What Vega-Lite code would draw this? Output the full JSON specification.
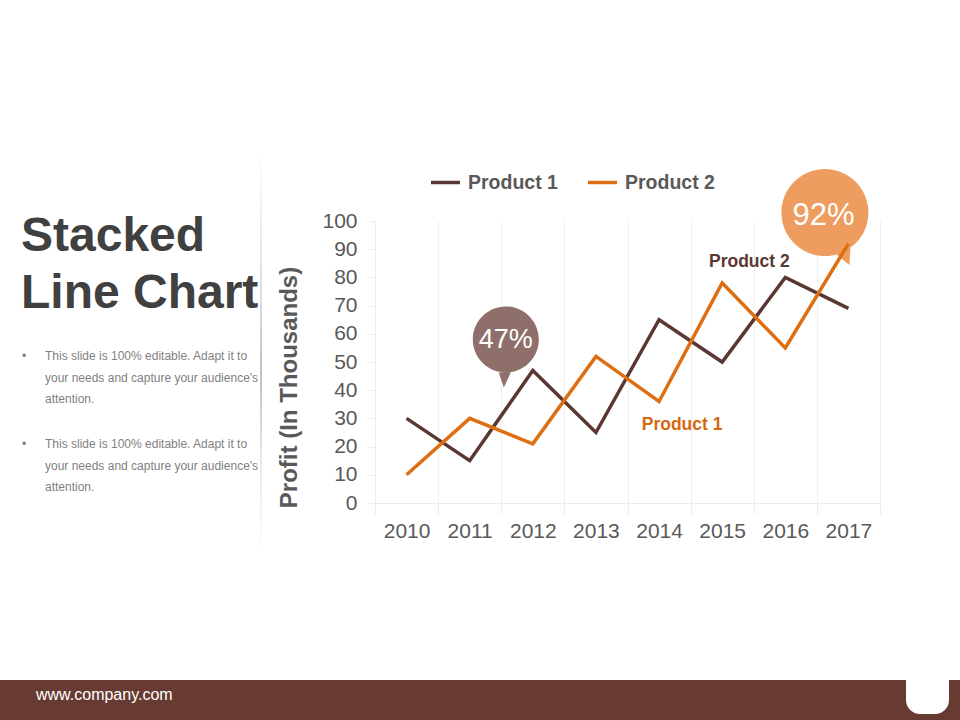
{
  "$schema": "https://vega.github.io/schema/vega-lite/v6.json",
  "background": "white",
  "padding": 0,
  "spacing": 0,
  "config": {
    "font": "Liberation Sans",
    "view": {"stroke": null},
    "axis": {"domainColor": "#ececec", "tickColor": "#ececec", "gridColor": "#efefef", "labelColor": "#595959"}
  },
  "datasets": {
    "profit": [
      {"year": "2010", "product": "Product 1", "profit": 30},
      {"year": "2011", "product": "Product 1", "profit": 15},
      {"year": "2012", "product": "Product 1", "profit": 47},
      {"year": "2013", "product": "Product 1", "profit": 25},
      {"year": "2014", "product": "Product 1", "profit": 65},
      {"year": "2015", "product": "Product 1", "profit": 50},
      {"year": "2016", "product": "Product 1", "profit": 80},
      {"year": "2017", "product": "Product 1", "profit": 69},
      {"year": "2010", "product": "Product 2", "profit": 10},
      {"year": "2011", "product": "Product 2", "profit": 30},
      {"year": "2012", "product": "Product 2", "profit": 21},
      {"year": "2013", "product": "Product 2", "profit": 52},
      {"year": "2014", "product": "Product 2", "profit": 36},
      {"year": "2015", "product": "Product 2", "profit": 78},
      {"year": "2016", "product": "Product 2", "profit": 55},
      {"year": "2017", "product": "Product 2", "profit": 92}
    ],
    "bullets": [
      {"item": "a", "part": "marker", "text": "•"},
      {"item": "a", "part": "text", "text": "This slide is 100% editable. Adapt it to\nyour needs and capture your audience's\nattention."},
      {"item": "b", "part": "marker", "text": "•"},
      {"item": "b", "part": "text", "text": "This slide is 100% editable. Adapt it to\nyour needs and capture your audience's\nattention."}
    ]
  },
  "vconcat": [
    {
      "spacing": 0,
      "bounds": "flush",
      "hconcat": [
        {
          "width": 375,
          "height": 680,
          "resolve": {"scale": {"x": "independent", "y": "independent"}},
          "layer": [
            {
              "data": {"values": [{"part": "divider", "from": 0, "to": 1}]},
              "mark": {
                "type": "rect",
                "width": 2,
                "color": {
                  "gradient": "linear", "x1": 0, "y1": 0, "x2": 0, "y2": 1,
                  "stops": [
                    {"offset": 0, "color": "#ffffff"},
                    {"offset": 0.4, "color": "#d8d8d8"},
                    {"offset": 0.55, "color": "#bfbfbf"},
                    {"offset": 0.75, "color": "#e6e6e6"},
                    {"offset": 1, "color": "#ffffff"}
                  ]
                }
              },
              "encoding": {
                "x": {"field": "part", "type": "nominal", "axis": null, "scale": {"type": "point", "domain": ["divider"], "range": [261, 261]}},
                "y": {"field": "from", "type": "quantitative", "axis": null, "scale": {"domain": [0, 1], "range": [150, 555]}},
                "y2": {"field": "to"}
              }
            },
            {
              "data": {"values": [{"part": "heading", "text": "Stacked\nLine Chart"}]},
              "mark": {"type": "text", "align": "left", "baseline": "middle", "lineBreak": "\n", "lineHeight": 57, "fontSize": 48, "fontWeight": "bold", "color": "#404040"},
              "encoding": {
                "x": {"field": "part", "type": "nominal", "axis": null, "scale": {"type": "point", "domain": ["heading"], "range": [21, 21]}},
                "y": {"field": "part", "type": "nominal", "axis": null, "scale": {"type": "point", "domain": ["heading"], "range": [237, 237]}},
                "text": {"field": "text"}
              }
            },
            {
              "data": {"name": "bullets"},
              "mark": {"type": "text", "align": "left", "baseline": "top", "lineBreak": "\n", "lineHeight": 21.6, "fontSize": 12, "color": "#7f7f7f"},
              "encoding": {
                "x": {"field": "part", "type": "nominal", "axis": null, "scale": {"type": "point", "padding": 0, "domain": ["marker", "text"], "range": [22, 45]}},
                "y": {"field": "item", "type": "nominal", "axis": null, "scale": {"type": "point", "padding": 0, "domain": ["a", "b"], "range": [351, 439]}},
                "text": {"field": "text"}
              }
            }
          ]
        },
        {
          "spacing": 0,
          "bounds": "flush",
          "vconcat": [
            {
              "width": 505,
              "height": 221,
              "data": {"values": []},
              "mark": "text"
            },
            {
              "width": 505,
              "height": 282,
              "encoding": {
                "x": {
                  "field": "year", "type": "nominal", "title": null,
                  "scale": {"type": "band", "paddingInner": 0, "paddingOuter": 0},
                  "axis": {"tickBand": "extent", "grid": true, "tickSize": 11, "labelFontSize": 21, "labelAngle": 0, "labelAlign": "center", "labelPadding": 6}
                },
                "y": {
                  "field": "profit", "type": "quantitative",
                  "title": "Profit (In Thousands)",
                  "scale": {"domain": [0, 100], "nice": false},
                  "axis": {
                    "values": [0, 10, 20, 30, 40, 50, 60, 70, 80, 90, 100],
                    "labelOverlap": false,
                    "grid": false, "tickSize": 7, "labelFontSize": 21, "labelPadding": 11,
                    "titleFontSize": 24, "titleFontWeight": "bold", "titleColor": "#595959",
                    "titleX": -74, "titleY": 166
                  }
                }
              },
              "layer": [
                {
                  "data": {"values": [{"year": "2012", "profit": 47, "label": "47%"}]},
                  "mark": {
                    "type": "point", "filled": true, "opacity": 1, "size": 4, "color": "#8f6f6a",
                    "shape": "M-60,-31 a33,33 0 1,0 66,0 a33,33 0 1,0 -66,0 Z M-34,2 L-29,17 L-22,2 Z"
                  }
                },
                {
                  "data": {"values": [{"year": "2017", "profit": 92, "label": "92%"}]},
                  "mark": {
                    "type": "point", "filled": true, "opacity": 1, "size": 4, "color": "#ee9c5f",
                    "shape": "M-67,-31 a43.5,43.5 0 1,0 87,0 a43.5,43.5 0 1,0 -87,0 Z M-13,10 L1,21.5 L3,-11 Z"
                  }
                },
                {
                  "data": {"name": "profit"},
                  "mark": {"type": "line", "strokeWidth": 3.5},
                  "encoding": {
                    "color": {
                      "field": "product", "type": "nominal",
                      "scale": {"domain": ["Product 1", "Product 2"], "range": ["#5a3732", "#dd6f12"]},
                      "legend": {
                        "title": null, "orient": "none", "legendX": 429, "legendY": 166,
                        "direction": "horizontal", "columns": 2, "columnPadding": 23,
                        "symbolType": "stroke", "symbolSize": 841, "symbolStrokeWidth": 3.5,
                        "labelFontSize": 19.5, "labelFontWeight": "bold", "labelColor": "#595959", "labelOffset": 6
                      }
                    }
                  }
                },
                {
                  "data": {"values": [{"year": "2012", "profit": 47, "label": "47%"}]},
                  "mark": {"type": "text", "color": "white", "fontSize": 27, "xOffset": -27, "yOffset": -30},
                  "encoding": {"text": {"field": "label"}}
                },
                {
                  "data": {"values": [{"year": "2017", "profit": 92, "label": "92%"}]},
                  "mark": {"type": "text", "color": "white", "fontSize": 31, "xOffset": -25, "yOffset": -28},
                  "encoding": {"text": {"field": "label"}}
                },
                {
                  "data": {"values": [{"year": "2016", "profit": 85.3, "label": "Product 2"}]},
                  "mark": {"type": "text", "color": "#5a3732", "fontSize": 17.5, "fontWeight": "bold", "xOffset": -36},
                  "encoding": {"text": {"field": "label"}}
                },
                {
                  "data": {"values": [{"year": "2014", "profit": 27.7, "label": "Product 1"}]},
                  "mark": {"type": "text", "color": "#d5690f", "fontSize": 17.5, "fontWeight": "bold", "xOffset": 23},
                  "encoding": {"text": {"field": "label"}}
                }
              ]
            }
          ]
        }
      ]
    },
    {
      "width": 960,
      "height": 40,
      "view": {"fill": "#673b31", "stroke": null},
      "resolve": {"scale": {"x": "independent", "y": "independent"}},
      "layer": [
        {
          "data": {"values": [{"part": "url", "text": "www.company.com"}]},
          "mark": {"type": "text", "align": "left", "color": "white", "fontSize": 16},
          "encoding": {
            "x": {"field": "part", "type": "nominal", "axis": null, "scale": {"type": "point", "domain": ["url"], "range": [36, 36]}},
            "y": {"field": "part", "type": "nominal", "axis": null, "scale": {"type": "point", "domain": ["url"], "range": [15, 15]}},
            "text": {"field": "text"}
          }
        },
        {
          "data": {"values": [{"part": "tab"}]},
          "mark": {"type": "rect", "width": 43, "height": 34, "color": "white", "cornerRadiusBottomLeft": 14, "cornerRadiusBottomRight": 14},
          "encoding": {
            "x": {"field": "part", "type": "nominal", "axis": null, "scale": {"type": "point", "domain": ["tab"], "range": [927.5, 927.5]}},
            "y": {"field": "part", "type": "nominal", "axis": null, "scale": {"type": "point", "domain": ["tab"], "range": [17, 17]}}
          }
        }
      ]
    }
  ]
}
